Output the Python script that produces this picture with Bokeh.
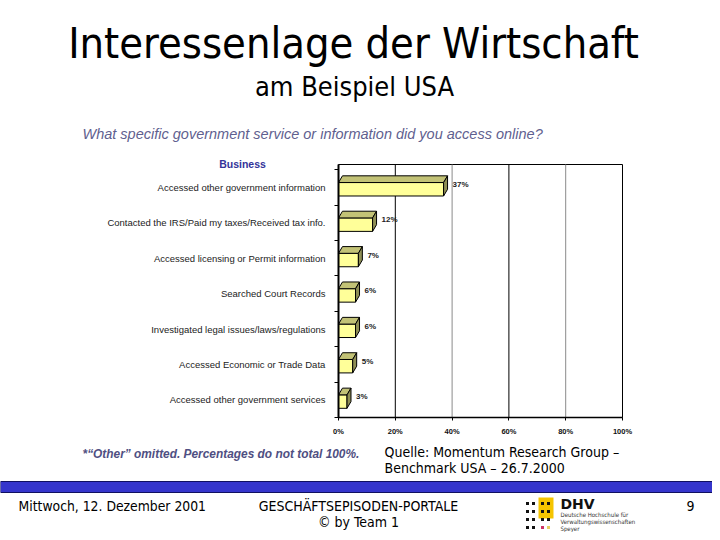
from bokeh.plotting import figure
from bokeh.models import Range1d, FixedTicker, LinearAxis, PrintfTickFormatter
from bokeh.core.properties import value
from bokeh.embed import file_html
from bokeh.resources import INLINE

categories = [
    "Accessed other government information",
    "Contacted the IRS/Paid my taxes/Received tax info.",
    "Accessed licensing or Permit information",
    "Searched Court Records",
    "Investigated legal issues/laws/regulations",
    "Accessed Economic or Trade Data",
    "Accessed other government services",
]
values = [37, 12, 7, 6, 6, 5, 3]
value_labels = ["37%", "12%", "7%", "6%", "6%", "5%", "3%"]
x_ticks = [0, 20, 40, 60, 80, 100]

W, H = 712, 532
# chart area in canvas pixels (layout)
FL, FR, FT, FB = 338, 622, 164, 417
Y_TOP, Y_BOT = -0.65, 6.5          # category range at chart top / bottom
XPX = (FR - FL) / 100.0            # px per percent
YPX = (FB - FT) / (Y_BOT - Y_TOP)  # px per category unit

p = figure(width=W, height=H, output_backend="svg", toolbar_location=None,
           x_range=Range1d(0, W), y_range=Range1d(H, 0),
           x_axis_location=None, y_axis_location=None, title=None,
           min_border=0, min_border_left=0, min_border_right=0,
           min_border_top=0, min_border_bottom=0)
p.outline_line_color = None
p.xgrid.visible = False
p.ygrid.visible = False
p.background_fill_color = "white"
p.border_fill_color = "white"

p.extra_x_ranges = {"pct": Range1d(-FL / XPX, (W - FL) / XPX)}
p.extra_y_ranges = {"cat": Range1d(Y_BOT + (H - FB) / YPX, Y_TOP - FT / YPX)}
R = dict(x_range_name="pct", y_range_name="cat")

# plot frame (white box) and grid lines
p.quad(left=[0], right=[100], top=[Y_TOP], bottom=[Y_BOT], fill_color="white",
       line_color="black", line_width=1, **R)
grid_black = [t for t in x_ticks[1:-1] if t % 40 == 20]
grid_gray = [t for t in x_ticks[1:-1] if t % 40 == 0]
p.segment(x0=grid_black, x1=grid_black, y0=[Y_TOP] * len(grid_black), y1=[Y_BOT] * len(grid_black),
          line_color="black", line_width=1, **R)
p.segment(x0=grid_gray, x1=grid_gray, y0=[Y_TOP] * len(grid_gray), y1=[Y_BOT] * len(grid_gray),
          line_color="#8a8a8a", line_width=1, **R)

# 3D bars
dx = 1.4
ys = list(range(len(categories)))
front_top = [c - 0.14 for c in ys]
front_bot = [c + 0.24 for c in ys]
top_top = [c - 0.33 for c in ys]
p.quad(left=[0] * len(values), right=values, top=front_top, bottom=front_bot,
       fill_color="#FFFF99", line_color="black", line_width=1, **R)
top_xs = [[0, v, v + dx, dx] for v in values]
top_ys = [[ft, ft, tt, tt] for ft, tt in zip(front_top, top_top)]
p.patches(top_xs, top_ys, fill_color="#C2C276", line_color="black", line_width=1, **R)
side_xs = [[v, v + dx, v + dx, v] for v in values]
side_ys = [[ft, tt, tt + (fb - ft), fb] for ft, tt, fb in zip(front_top, top_top, front_bot)]
p.patches(side_xs, side_ys, fill_color="#8F8F55", line_color="black", line_width=1, **R)

p.text(x=values, y=ys, text=value_labels, x_offset=9, y_offset=-3,
       text_font=value("Liberation Sans"), text_font_style="bold",
       text_font_size="8px", text_color="#222222",
       text_align="left", text_baseline="middle", **R)

# axes
xaxis = LinearAxis(x_range_name="pct", y_range_name="cat", fixed_location=Y_BOT,
                   bounds=(0, 100), ticker=FixedTicker(ticks=x_ticks),
                   formatter=PrintfTickFormatter(format="%d%%"))
xaxis.major_label_text_font = "Liberation Sans"
xaxis.major_label_text_font_style = "bold"
xaxis.major_label_text_font_size = "7.5px"
xaxis.major_label_text_color = "#111111"
xaxis.major_label_standoff = 6
xaxis.axis_line_color = "black"
xaxis.axis_line_width = 1.5
xaxis.major_tick_line_color = "black"
xaxis.major_tick_in = 0
xaxis.major_tick_out = 3
xaxis.minor_tick_line_color = None
p.add_layout(xaxis, "below")

yaxis = LinearAxis(x_range_name="pct", y_range_name="cat", fixed_location=0,
                   bounds=(Y_TOP, Y_BOT),
                   ticker=FixedTicker(ticks=ys, minor_ticks=[i - 0.5 for i in range(len(categories) + 1)]))
yaxis.major_label_overrides = {i: c for i, c in enumerate(categories)}
yaxis.major_label_text_font = "Liberation Sans"
yaxis.major_label_text_font_size = "9.5px"
yaxis.major_label_text_color = "#222222"
yaxis.major_label_standoff = 7
yaxis.major_tick_line_color = None
yaxis.minor_tick_line_color = "black"
yaxis.minor_tick_out = 4
yaxis.minor_tick_in = 0
yaxis.axis_line_color = "black"
yaxis.axis_line_width = 2
p.add_layout(yaxis, "left")


def txt(text, cx, cy, size, font="DejaVu Sans", style="normal", color="black",
        align="left"):
    p.text(x=[cx], y=[cy], text=[text], text_font=value(font), text_font_size=size,
           text_font_style=style, text_color=color, text_align=align,
           text_baseline="middle")


TF = "DejaVu Sans Condensed"
# slide texts
txt("Interessenlage der Wirtschaft", 353, 42, "43px", font=TF, align="center")
txt("am Beispiel USA", 354, 86, "27px", font=TF, align="center")
txt("What specific government service or information did you access online?", 82, 133,
    "14.5px", font="Liberation Sans", style="italic", color="#5F5F8F")
txt("Business", 242, 163, "10.5px", font="Liberation Sans", style="bold", color="#333399", align="center")
txt("*\u201cOther\u201d omitted. Percentages do not total 100%.", 82, 453, "11.9px",
    font="Liberation Sans", style="bold italic", color="#4F4F82")
txt("Quelle: Momentum Research Group \u2013", 384, 451, "14px", font=TF)
txt("Benchmark  USA \u2013 26.7.2000", 384, 467, "14px", font=TF)

# footer bar
p.quad(left=[0], right=[W], top=[481], bottom=[492], fill_color="#3535CC",
       line_color="#101060", line_width=1)
txt("Mittwoch, 12. Dezember 2001", 18, 505, "13.8px", font=TF)
txt("GESCH\u00c4FTSEPISODEN-PORTALE", 358, 505, "14px", font=TF, align="center")
txt("\u00a9 by Team 1", 358, 521, "14px", font=TF, align="center")
txt("9", 690, 505, "14px", font=TF, align="center")

# DHV logo
p.quad(left=[538], right=[553], top=[497], bottom=[518], fill_color="#F5C400", line_color=None)
cols = [527, 533, 542, 548]
rows = [503, 511, 519, 527]
lx, ly, lc = [], [], []
for r, yy in enumerate(rows):
    for c, xx in enumerate(cols):
        col = "#111111"
        if r == 3 and c == 2:
            col = "#CC3366"
        if r == 3 and c == 3:
            col = "#E8D060"
        lx.append(xx); ly.append(yy); lc.append(col)
p.rect(x=lx, y=ly, width=3, height=3, fill_color=lc, line_color=None)
txt("DHV", 560, 503, "14px", font="DejaVu Sans", style="bold", color="#111111")
txt("Deutsche Hochschule f\u00fcr", 560, 514, "6px", font=TF, color="#333333")
txt("Verwaltungswissenschaften", 560, 521, "6px", font=TF, color="#333333")
txt("Speyer", 560, 528, "6px", font=TF, color="#333333")

open("out.html", "w").write(file_html(p, INLINE))
